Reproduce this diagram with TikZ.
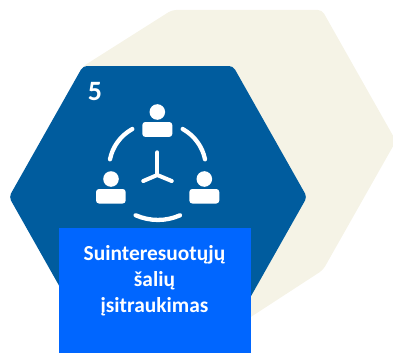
\documentclass[tikz,border=0pt]{standalone}
\usepackage{fontspec}
\setmainfont{Carlito}
\definecolor{creamc}{HTML}{F5F3E6}
\definecolor{hexblue}{HTML}{005C9E}
\definecolor{boxblue}{HTML}{0066FF}
\tikzset{
  icon/.style={fill=white,draw=none},
  arcline/.style={draw=white,line width=4.3pt,line cap=round},
  labeltext/.style={text=white,font=\bfseries\fontsize{21.4}{26}\selectfont,align=center},
}
\begin{document}
\begin{tikzpicture}[x=1pt,y=-1pt]
\useasboundingbox (0,0) rectangle (393,353);
\begin{scope}
\clip (0,0) rectangle (393,353);
\fill[creamc,rounded corners=4pt] (172,10) -- (322,10) -- (396,141) -- (323,270) -- (240,324) -- (100,200) -- (82,67) -- cycle;
\fill[hexblue,rounded corners=4pt] (83,66) -- (233,66) -- (307,197) -- (233,328) -- (83,328) -- (9,197) -- cycle;
% top person
\fill[icon] (157.3,112) circle (7.8);
\fill[icon,rounded corners=3pt] (142.3,136.9) -- (142.3,122) -- (172.3,122) -- (172.3,136.9) -- cycle;
% left person
\fill[icon] (111,179) circle (7.8);
\fill[icon,rounded corners=3pt] (96,203.5) -- (96,189) -- (125.7,189) -- (125.7,203.5) -- cycle;
% right person
\fill[icon] (204.3,179) circle (7.8);
\fill[icon,rounded corners=3pt] (189.3,203.5) -- (189.3,189) -- (219.3,189) -- (219.3,203.5) -- cycle;
% arcs
\draw[arcline] (132.3,129) .. controls (120,136) and (112.5,147) .. (110,159.3);
\draw[arcline] (182.7,129) .. controls (195,136) and (202.5,147) .. (205,159.3);
\draw[arcline] (135.7,215.3) .. controls (150,221.5) and (166,221.5) .. (180,215.3);
% tripod
\draw[arcline,line width=4pt] (157.3,152.3) -- (157.3,175);
\draw[arcline,line width=4pt] (143.3,181) -- (157.3,175) -- (171.7,181);
\end{scope}
\node[text=white,font=\bfseries\fontsize{28}{28}\selectfont,inner sep=0pt] (num) at (95,92) {5};
\fill[boxblue] (59,228) rectangle (251,353);
\node[labeltext,inner sep=0pt,anchor=base] (lab) at (154.5,260) {Suinteresuotųjų};
\node[labeltext,inner sep=0pt,anchor=base] (lab2) at (154.5,286) {šalių};
\node[labeltext,inner sep=0pt,anchor=base] (lab3) at (154.5,312) {įsitraukimas};
\end{tikzpicture}
\end{document}
